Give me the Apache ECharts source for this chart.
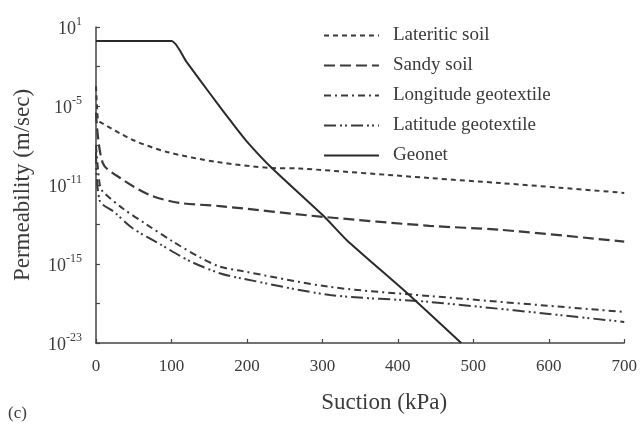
<!DOCTYPE html>
<html>
<head>
<meta charset="utf-8">
<script src="https://cdn.jsdelivr.net/npm/echarts@6/dist/echarts.min.js"></script>
<style>html,body{margin:0;padding:0;background:#fff}#c{width:640px;height:425px}</style>
</head>
<body>
<div id="c"></div>
<script>
// Data (y values are log10 exponents of permeability)
var seriesNames = ['Lateritic soil', 'Sandy soil', 'Longitude geotextile', 'Latitude geotextile', 'Geonet'];

var lateriticX = [0, 2.6, 5, 49, 94, 160, 233, 270, 442, 535, 614, 700];
var lateriticY = [-3.5, -6.06, -6.2, -7.58, -8.49, -9.25, -9.71, -9.75, -10.47, -10.85, -11.2, -11.6];

var sandyX = [0, 9, 32, 71, 111, 164, 303, 442, 535, 700];
var sandyY = [-5.5, -9.33, -10.47, -11.76, -12.36, -12.6, -13.43, -14.1, -14.4, -15.3];

var longitudeX = [0, 5, 9, 36, 67, 102, 138, 164, 190, 310, 442, 700];
var longitudeY = [-8, -11.0, -11.5, -12.8, -14.0, -15.3, -16.5, -17.2, -17.5, -18.74, -19.43, -20.64];

var latitudeX = [0, 5, 23, 49, 85, 125, 164, 190, 310, 442, 700];
var latitudeY = [-8.5, -12.2, -13.0, -14.3, -15.5, -16.8, -17.7, -18.06, -19.35, -19.88, -21.4];

var geonetX = [0, 100, 120, 140, 160, 180, 200, 233, 303, 332, 415, 484];
var geonetY = [-0.06, -0.06, -1.65, -3.2, -4.75, -6.25, -7.7, -9.71, -13.43, -15.17, -19.35, -23.0];

var xTicks = [0, 100, 200, 300, 400, 500, 600, 700];
var yLabelValues = [-23, -17, -11, -5, 1];
var yLabelExponents = ['-23', '-15', '-11', '-5', '1'];
var yTickValues = [-23, -20, -17, -14, -11, -8, -5, -2, 1];

function pairs(xs, ys) { return xs.map(function (x, i) { return [x, ys[i]]; }); }

var serif = '"Liberation Serif", "DejaVu Serif", serif';
var ink = '#3a3a3a';

var chart = echarts.init(document.getElementById('c'), null, {renderer: 'canvas'});
chart.setOption({
  animation: false,
  backgroundColor: '#ffffff',
  grid: {left: 96, right: 15, top: 27, bottom: 82, containLabel: false},
  legend: {
    left: 318, top: 21, orient: 'vertical',
    itemWidth: 55, itemHeight: 16, itemGap: 11,
    itemStyle: {opacity: 0},
    textStyle: {fontFamily: serif, fontSize: 19, color: ink, padding: [0, 0, 0, 9]},
    data: seriesNames
  },
  xAxis: {
    type: 'value', min: 0, max: 700,
    name: 'Suction (kPa)', nameLocation: 'middle', nameGap: 48,
    nameTextStyle: {fontFamily: serif, fontSize: 23, color: ink, padding: [0, 0, 0, 48]},
    axisLine: {onZero: false, lineStyle: {color: '#444', width: 1.5}},
    axisTick: {inside: true, length: 4, customValues: xTicks, lineStyle: {color: '#444', width: 1.2}},
    axisLabel: {fontFamily: serif, fontSize: 17, color: ink, margin: 15,
      customValues: xTicks},
    splitLine: {show: false}
  },
  yAxis: {
    type: 'value', min: -23, max: 1,
    name: 'Permeability (m/sec)', nameLocation: 'middle', nameGap: 62,
    nameTextStyle: {fontFamily: serif, fontSize: 23, color: ink},
    axisLine: {show: true, onZero: false, lineStyle: {color: '#444', width: 1.5}},
    axisTick: {show: true, inside: true, length: 4, customValues: yTickValues,
      lineStyle: {color: '#444', width: 1.2}},
    axisLabel: {
      margin: 14, customValues: yLabelValues,
      formatter: function (v) {
        var i = yLabelValues.indexOf(Math.round(v));
        return '{b|10}{s|' + (i >= 0 ? yLabelExponents[i] : '') + '}';
      },
      rich: {
        b: {fontFamily: serif, fontSize: 18, color: ink, lineHeight: 22, verticalAlign: 'bottom'},
        s: {fontFamily: serif, fontSize: 12, color: ink, lineHeight: 22, verticalAlign: 'top'}
      }
    },
    splitLine: {show: false}
  },
  series: [
    {name: seriesNames[0], type: 'line', data: pairs(lateriticX, lateriticY), showSymbol: false, symbol: 'none',
      smooth: 0.3, lineStyle: {color: ink, width: 2, type: [5, 4]}, itemStyle: {color: ink}},
    {name: seriesNames[1], type: 'line', data: pairs(sandyX, sandyY), showSymbol: false, symbol: 'none',
      smooth: 0.3, lineStyle: {color: ink, width: 2.2, type: [11, 5]}, itemStyle: {color: ink}},
    {name: seriesNames[2], type: 'line', data: pairs(longitudeX, longitudeY), showSymbol: false, symbol: 'none',
      smooth: 0.3, lineStyle: {color: ink, width: 2, type: [7, 4, 2, 4]}, itemStyle: {color: ink}},
    {name: seriesNames[3], type: 'line', data: pairs(latitudeX, latitudeY), showSymbol: false, symbol: 'none',
      smooth: 0.3, lineStyle: {color: ink, width: 2, type: [12, 4, 2, 3, 2, 4]}, itemStyle: {color: ink}},
    {name: seriesNames[4], type: 'line', data: pairs(geonetX, geonetY), showSymbol: false, symbol: 'none',
      smooth: 0.2, lineStyle: {color: '#2a2a2a', width: 2, type: 'solid'}, itemStyle: {color: '#2a2a2a'}}
  ],
  graphic: [{
    type: 'text', left: 8, top: 405,
    style: {text: '(c)', font: '17px ' + serif, fill: ink}
  }]
});
</script>
</body>
</html>
